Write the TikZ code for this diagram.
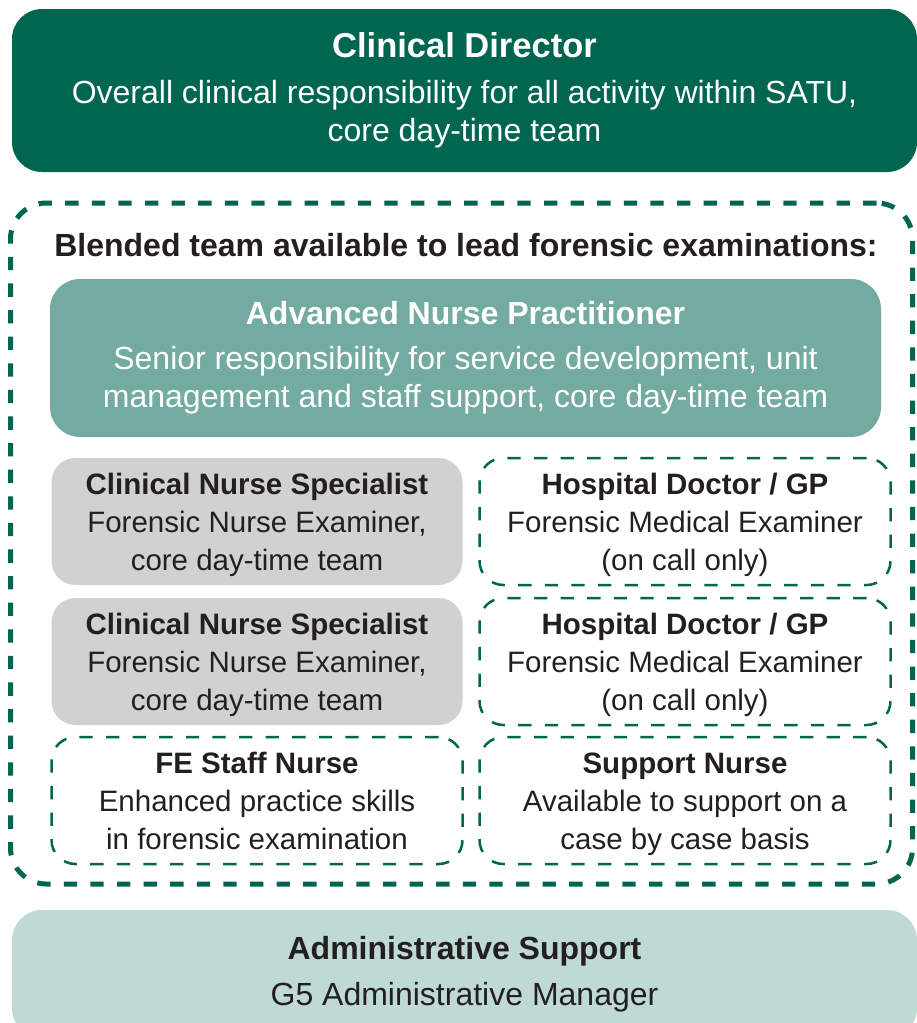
\documentclass[tikz,border=0pt]{standalone}
\usepackage{fontspec}
\setmainfont{Liberation Sans}
\usetikzlibrary{positioning}
\definecolor{forest}{HTML}{00664F}
\definecolor{sage}{HTML}{74ABA0}
\definecolor{mist}{HTML}{BFD9D4}
\definecolor{stone}{HTML}{D1D1D1}
\definecolor{ink}{HTML}{231F20}
\newcommand{\bigtxt}{\fontsize{32}{38.5}\selectfont}
\newcommand{\smalltxt}{\fontsize{29.5}{38}\selectfont}
\newcommand{\topstrut}{\rule{0pt}{34pt}}

\begin{document}
\begin{tikzpicture}[x=1pt,y=-1pt,
 box/.style={rounded corners=30pt,align=center,inner sep=0pt,outer sep=0pt},
 wide/.style={box,minimum width=905pt,font=\bigtxt},
 cell/.style={box,rounded corners=24pt,minimum width=411pt,minimum height=127pt,font=\smalltxt,text=ink},
 grey/.style={cell,fill=stone},
 oncall/.style={cell,draw=forest,line width=2.5pt,dash pattern=on 13.3pt off 13.3pt},
 frame/.style={box,rounded corners=36pt,draw=forest,line width=5pt,dash pattern=on 13.3pt off 13.3pt}]
\useasboundingbox (0,0) rectangle (917,1023);
\node[wide,fill=forest,text=white,minimum height=163pt] (cd) at (464.5,90.5) {\textbf{\fontsize{34.5}{38.5}\selectfont Clinical Director}\\[7pt] Overall clinical responsibility for all activity within SATU,\\ core day-time team};
\node[frame,minimum width=902pt,minimum height=681pt] (blended) at (461.5,543.5) {};
\node[font=\bigtxt\bfseries,text=ink,anchor=base] (head) at (466,256) {Blended team available to lead forensic examinations:};
\node[box,fill=sage,text=white,minimum width=831pt,minimum height=158pt,font=\bigtxt] (anp) at (465.5,358) {\textbf{Advanced Nurse Practitioner}\\[6pt] Senior responsibility for service development, unit\\ management and staff support, core day-time team};
% nurse / doctor grid
\node[grey] (cnsA) at (257,521.5) {\topstrut\textbf{Clinical Nurse Specialist}\\ \strut Forensic Nurse Examiner,\\ \strut core day-time team};
\node[oncall,right=17pt of cnsA] (hdA) {\topstrut\textbf{Hospital Doctor / GP}\\ \strut Forensic Medical Examiner\\ \strut (on call only)};
\node[grey,below=13pt of cnsA] (cnsB) {\topstrut\textbf{Clinical Nurse Specialist}\\ \strut Forensic Nurse Examiner,\\ \strut core day-time team};
\node[oncall,right=17pt of cnsB] (hdB) {\topstrut\textbf{Hospital Doctor / GP}\\ \strut Forensic Medical Examiner\\ \strut (on call only)};
\node[oncall,below=12pt of cnsB] (fe) {\topstrut\textbf{FE Staff Nurse}\\ \strut Enhanced practice skills\\ \strut in forensic examination};
\node[oncall,right=17pt of fe] (sn) {\topstrut\textbf{Support Nurse}\\ \strut Available to support on a\\ \strut case by case basis};
\node[wide,fill=mist,text=ink,minimum height=128pt] (admin) at (464.5,974) {\textbf{Administrative Support}\\[7pt] G5 Administrative Manager};
\end{tikzpicture}
\end{document}
